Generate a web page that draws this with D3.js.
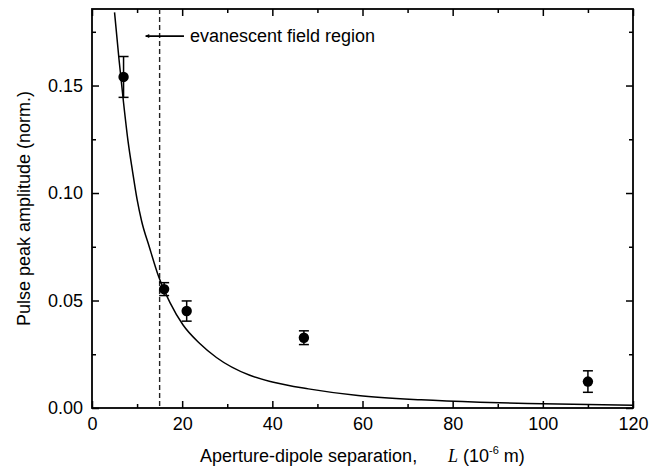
<!DOCTYPE html>
<html>
<head>
<meta charset="utf-8">
<script src="https://cdn.jsdelivr.net/npm/d3@7"></script>
<style>
  body { margin: 0; background: #fff; }
  svg text { font-family: Arial, 'Liberation Sans', sans-serif; fill: #000; }
</style>
</head>
<body>
<svg id="chart" width="660" height="473"></svg>
<script>
// measured points: separation L (1e-6 m), amplitude, error
const sepL = [7, 16, 21, 47, 110]
const amp = [0.154, 0.0553, 0.0451, 0.0327, 0.0123]
const ampErr = [0.0095, 0.003, 0.0047, 0.0032, 0.005]

// fitted curve
const fitL = [5, 6, 7, 8, 9, 10, 11, 12.7, 14.8, 17.3, 20.2, 23.9, 27.6, 35, 40, 48, 59, 73, 86, 100, 110, 120]
const fitV = [0.184, 0.162, 0.142, 0.124, 0.110, 0.097, 0.087, 0.075, 0.061, 0.049, 0.0386, 0.030, 0.0235, 0.0152, 0.0121, 0.0089, 0.0058, 0.0038, 0.0027, 0.0020, 0.0016, 0.0013]

const xMajor = [0, 20, 40, 60, 80, 100, 120]
const xMinor = [10, 30, 50, 70, 90, 110]
const yMajor = [0, 0.05, 0.10, 0.15]
const yMinor = [0.025, 0.075, 0.125, 0.175]

const evanescentL = 15
const arrowFromL = 20.4
const arrowToL = 11.9
const arrowY = 0.173

const width = 660
const height = 473
const margin = { top: 9, right: 27, bottom: 65, left: 92 }

const svg = d3.select('#chart')
const plotW = width - margin.left - margin.right
const plotH = height - margin.top - margin.bottom

const x = d3.scaleLinear().domain([0, 120]).range([margin.left, margin.left + plotW])
const y = d3.scaleLinear().domain([0, 0.1856]).range([margin.top + plotH, margin.top])

function styleAxis (g) {
  g.select('.domain').remove()
  g.selectAll('.tick line').style('stroke', '#000').style('stroke-width', 1.5)
  g.selectAll('.tick text').style('font-size', '18px')
}

// bottom axis
svg.append('g')
  .attr('transform', `translate(0,${y(0)})`)
  .call(d3.axisBottom(x).tickValues(xMajor).tickSize(-7).tickPadding(9).tickFormat(d3.format('d')))
  .call(styleAxis)
svg.append('g')
  .attr('transform', `translate(0,${y(0)})`)
  .call(d3.axisBottom(x).tickValues(xMinor).tickSize(-4).tickFormat(''))
  .call(styleAxis)
// top axis
svg.append('g')
  .attr('transform', `translate(0,${margin.top})`)
  .call(d3.axisTop(x).tickValues(xMajor).tickSize(-7).tickFormat(''))
  .call(styleAxis)
svg.append('g')
  .attr('transform', `translate(0,${margin.top})`)
  .call(d3.axisTop(x).tickValues(xMinor).tickSize(-4).tickFormat(''))
  .call(styleAxis)
// left axis
svg.append('g')
  .attr('transform', `translate(${margin.left},0)`)
  .call(d3.axisLeft(y).tickValues(yMajor).tickSize(-7).tickPadding(9).tickFormat(d3.format('.2f')))
  .call(styleAxis)
svg.append('g')
  .attr('transform', `translate(${margin.left},0)`)
  .call(d3.axisLeft(y).tickValues(yMinor).tickSize(-4).tickFormat(''))
  .call(styleAxis)
// right axis
svg.append('g')
  .attr('transform', `translate(${margin.left + plotW},0)`)
  .call(d3.axisRight(y).tickValues(yMajor).tickSize(-7).tickFormat(''))
  .call(styleAxis)
svg.append('g')
  .attr('transform', `translate(${margin.left + plotW},0)`)
  .call(d3.axisRight(y).tickValues(yMinor).tickSize(-4).tickFormat(''))
  .call(styleAxis)

// frame
svg.append('rect')
  .attr('x', margin.left).attr('y', margin.top)
  .attr('width', plotW).attr('height', plotH)
  .attr('fill', 'none').attr('stroke', '#000').attr('stroke-width', 1.8)

svg.append('clipPath').attr('id', 'plotClip')
  .append('rect')
  .attr('x', margin.left).attr('y', margin.top)
  .attr('width', plotW).attr('height', plotH)

// dashed boundary
svg.append('line')
  .attr('x1', x(evanescentL)).attr('x2', x(evanescentL))
  .attr('y1', margin.top).attr('y2', y(0))
  .attr('stroke', '#222').attr('stroke-width', 1.4)
  .attr('stroke-dasharray', '5,3')

// fit curve
const fitData = fitL.map((l, i) => ({ l, v: fitV[i] }))
const line = d3.line()
  .x(d => x(d.l))
  .y(d => y(d.v))
  .curve(d3.curveMonotoneX)

svg.append('path')
  .datum(fitData)
  .attr('clip-path', 'url(#plotClip)')
  .attr('d', line)
  .attr('fill', 'none')
  .attr('stroke', '#000')
  .attr('stroke-width', 1.5)

// error bars + points
const pts = sepL.map((l, i) => ({ l, v: amp[i], e: ampErr[i] }))
const eb = svg.append('g').attr('stroke', '#000').attr('stroke-width', 1.5)
pts.forEach(d => {
  eb.append('line')
    .attr('x1', x(d.l)).attr('x2', x(d.l))
    .attr('y1', y(d.v + d.e)).attr('y2', y(d.v - d.e))
  eb.append('line')
    .attr('x1', x(d.l) - 5).attr('x2', x(d.l) + 5)
    .attr('y1', y(d.v + d.e)).attr('y2', y(d.v + d.e))
  eb.append('line')
    .attr('x1', x(d.l) - 5).attr('x2', x(d.l) + 5)
    .attr('y1', y(d.v - d.e)).attr('y2', y(d.v - d.e))
})
svg.append('g').selectAll('circle')
  .data(pts)
  .join('circle')
  .attr('cx', d => x(d.l))
  .attr('cy', d => y(d.v))
  .attr('r', 5.2)
  .attr('fill', '#000')

// annotation arrow (points left, toward small L)
svg.append('defs').append('marker')
  .attr('id', 'arrowHead')
  .attr('viewBox', '0 0 10 10')
  .attr('refX', 9).attr('refY', 5)
  .attr('markerWidth', 7).attr('markerHeight', 4)
  .attr('markerUnits', 'userSpaceOnUse')
  .attr('orient', 'auto')
  .append('path')
  .attr('d', 'M0,0 L10,5 L0,10 z')
  .attr('fill', '#000')

svg.append('line')
  .attr('x1', x(arrowFromL)).attr('x2', x(arrowToL))
  .attr('y1', y(arrowY)).attr('y2', y(arrowY))
  .attr('stroke', '#000').attr('stroke-width', 1.6)
  .attr('marker-end', 'url(#arrowHead)')

svg.append('text')
  .attr('x', x(arrowFromL) + 6)
  .attr('y', y(arrowY) + 6)
  .style('font-size', '18px')
  .text('evanescent field region')

// axis titles
svg.append('text')
  .attr('transform', `translate(30,${margin.top + plotH / 2}) rotate(-90)`)
  .attr('text-anchor', 'middle')
  .style('font-size', '18px')
  .text('Pulse peak amplitude (norm.)')

svg.append('text')
  .attr('x', 200)
  .attr('y', 462)
  .style('font-size', '18px')
  .text('Aperture-dipole separation,')

const unit = svg.append('text')
  .attr('x', 448)
  .attr('y', 462)
  .style('font-size', '18px')
unit.append('tspan')
  .style('font-family', "'Liberation Serif', 'Times New Roman', serif")
  .style('font-style', 'italic')
  .text('L')
unit.append('tspan').text(' (10')
unit.append('tspan').attr('dy', -8).style('font-size', '11px').text('-6')
unit.append('tspan').attr('dy', 8).text(' m)')
</script>
</body>
</html>
